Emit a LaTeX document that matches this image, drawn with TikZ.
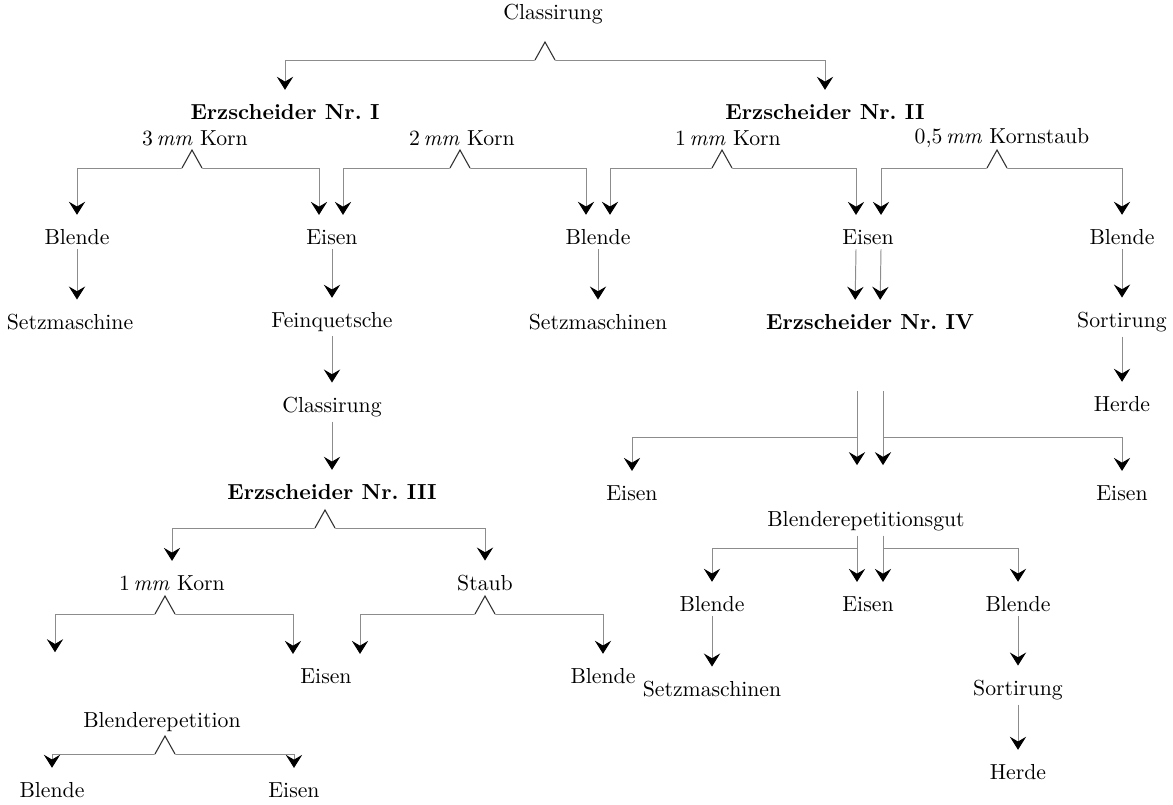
\documentclass[tikz,border=0pt]{standalone}
\usepackage{tikz}
\usetikzlibrary{arrows.meta, calc, positioning}

\begin{document}
\begin{tikzpicture}[x=0.46pt, y=-0.46pt,
    every node/.style={inner sep=2pt},
    bold/.style={font=\bfseries},
    flow/.style={draw=black!45, line width=0.45pt, shorten >=4.5pt,
        -{Stealth[length=6pt, width=7.5pt, inset=2.2pt, color=black]}},
    split/.pic={
        \fill[white] (-11,2) -- (0,-19) -- (11,2) -- cycle;
        \draw[black!80, line width=0.5pt, line join=miter] (-10,0) -- (0,-18) -- (10,0);
    }
]
    \useasboundingbox (0,0) rectangle (1173,805);

    % first classing
    \node (cls0) at (553,14) {Classirung};
    \coordinate (s0) at (545,60);
    \node[bold] (erz1) at (285,112) {Erzscheider Nr.\ I};
    \node[bold] (erz2) at (825,112) {Erzscheider Nr.\ II};
    \draw[flow] (s0) -| (erz1);
    \draw[flow] (s0) -| (erz2);

    % grain sizes
    \node (k3) at (195,138) {3\,\textit{mm} Korn};
    \node (k2) at (462,138) {2\,\textit{mm} Korn};
    \node (k1a) at (728,138) {1\,\textit{mm} Korn};
    \node (k05) at (1002,138) {0,5\,\textit{mm} Kornstaub};
    \coordinate (s1) at (192,168);
    \coordinate (s2) at (460,168);
    \coordinate (s3) at (722,168);
    \coordinate (s4) at (997,168);

    \node (bl1) at (77,237) {Blende};
    \node (ei1) at (332,237) {Eisen};
    \node (bl2) at (598,237) {Blende};
    \node (ei2) at (868,237) {Eisen};
    \node (bl3) at (1122,237) {Blende};

    \draw[flow] (s1) -| (bl1);
    \draw[flow] (s1) -| ($(ei1.north)+(-13,0)$);
    \draw[flow] (s2) -| ($(ei1.north)+(11,0)$);
    \draw[flow] (s2) -| ($(bl2.north)+(-12,0)$);
    \draw[flow] (s3) -| ($(bl2.north)+(12,0)$);
    \draw[flow] (s3) -| ($(ei2.north)+(-12,0)$);
    \draw[flow] (s4) -| ($(ei2.north)+(13,0)$);
    \draw[flow] (s4) -| (bl3);

    \node (sm1) at (70,322) {Setzmaschine};
    \node (fq) at (332,322) {Feinquetsche};
    \node (sm2) at (598,322) {Setzmaschinen};
    \node[bold] (erz4) at (870,322) {Erzscheider Nr.\ IV};
    \node (so1) at (1122,322) {Sortirung};

    \draw[flow] (bl1) -- (sm1.north -| bl1);
    \draw[flow] (ei1) -- (fq);
    \draw[flow] (bl2) -- (sm2);
    \draw[flow] ($(ei2.south)+(-12,0)$) -- ($(erz4.north)+(-15,0)$);
    \draw[flow] ($(ei2.south)+(13,0)$) -- ($(erz4.north)+(10,0)$);
    \draw[flow] (bl3) -- (so1);

    \node (cls1) at (332,407) {Classirung};
    \node[bold] (erz3) at (332,492) {Erzscheider Nr.\ III};
    \node (he1) at (1122,404) {Herde};
    \draw[flow] (fq) -- (cls1);
    \draw[flow] (cls1) -- (erz3);
    \draw[flow] (so1) -- (he1);

    % after Erzscheider Nr. IV
    \coordinate (m1) at (857,437);
    \coordinate (m2) at (883,437);
    \node (ei3) at (632,493) {Eisen};
    \node (ei4) at (1122,493) {Eisen};
    \node (brg) at (866,521) {Blenderepetitionsgut};
    \draw[flow, shorten <=26pt, shorten >=19pt] (erz4.south -| m1) -- (brg.north -| m1);
    \draw[flow, shorten <=26pt, shorten >=19pt] (erz4.south -| m2) -- (brg.north -| m2);
    \draw[flow] (m1) -| (ei3);
    \draw[flow] (m2) -| (ei4);

    \coordinate (n1) at (857,548);
    \coordinate (n2) at (883,548);
    \node (bl4) at (712,604) {Blende};
    \node (ei5) at (868,604) {Eisen};
    \node (bl5) at (1018,604) {Blende};
    \draw[flow] (brg.south -| n1) -- (ei5.north -| n1);
    \draw[flow] (brg.south -| n2) -- (ei5.north -| n2);
    \draw[flow] (n1) -| (bl4);
    \draw[flow] (n2) -| (bl5);

    \node (sm3) at (712,689) {Setzmaschinen};
    \node (so2) at (1018,690) {Sortirung};
    \node (he2) at (1018,772) {Herde};
    \draw[flow] (bl4) -- (sm3);
    \draw[flow] (bl5) -- (so2);
    \draw[flow] (so2) -- (he2);

    % after Erzscheider Nr. III
    \coordinate (s5) at (325,528);
    \node (k1b) at (172,583) {1\,\textit{mm} Korn};
    \node (st) at (485,583) {Staub};
    \draw[flow] (s5) -| (k1b);
    \draw[flow] (s5) -| (st);

    \coordinate (s6) at (165,614);
    \coordinate (s7) at (485,614);
    \coordinate (c1) at (55,662);
    \node (ei6) at (326,676) {Eisen};
    \node (bl6) at (603,676) {Blende};
    \draw[flow] (s6) -| (c1);
    \draw[flow] (s6) -| ($(ei6.north)+(-33,0)$);
    \draw[flow] (s7) -| ($(ei6.north)+(34,0)$);
    \draw[flow] (s7) -| (bl6);

    \node (brp) at (162,722) {Blenderepetition};
    \coordinate (s8) at (165,754);
    \node (bl7) at (52,790) {Blende};
    \node (ei7) at (294,790) {Eisen};
    \draw[flow] (s8) -| (bl7);
    \draw[flow] (s8) -| (ei7);

    % split marks on top of the lines
    \foreach \s in {s0,s1,s2,s3,s4,s5,s6,s7,s8}
        \pic at (\s) {split};
\end{tikzpicture}
\end{document}
